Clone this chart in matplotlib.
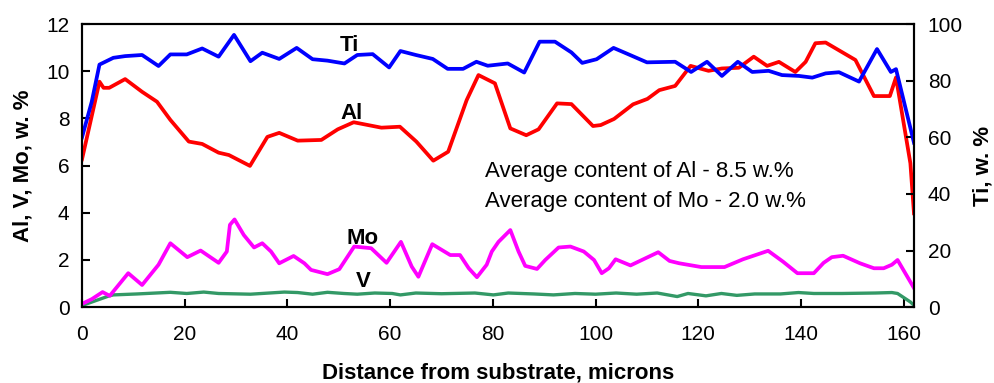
import matplotlib
matplotlib.use("Agg")
from matplotlib import pyplot as plt

plt.rcParams["font.family"] = ["Liberation Sans", "DejaVu Sans"]

# Ti, right axis (w. %)
TI_X = [0, 1.9, 3.4, 6.1, 8.4, 11.7, 14.9, 17.2, 20.4, 23.4, 26.6, 29.6, 32.8,
        35.1, 38.4, 41.8, 44.9, 47.8, 51.1, 53.6, 56.6, 59.8, 62.0, 65.0, 68.3,
        71.2, 74.2, 76.8, 79.0, 82.9, 86.1, 89.1, 92.1, 95.3, 97.4, 100.2, 103.5,
        106.7, 110.0, 115.5, 118.6, 121.7, 124.6, 127.7, 130.5, 133.7, 136.3,
        139.6, 142.2, 144.8, 147.4, 151.3, 154.8, 157.5, 158.5, 162]
TI_Y = [60.0, 72.6, 85.7, 88.1, 88.7, 89.1, 85.2, 89.3, 89.3, 91.4, 88.5, 96.2, 86.9,
        89.9, 87.7, 91.6, 87.6, 87.1, 86.1, 89.1, 89.4, 84.7, 90.5, 89.1, 87.7,
        84.2, 84.2, 86.7, 85.3, 86.1, 82.9, 93.8, 93.8, 90.0, 86.3, 87.6, 91.6,
        89.1, 86.5, 86.7, 83.1, 86.7, 81.7, 86.7, 83.1, 83.5, 82.0,
        81.7, 81.1, 82.6, 83.0, 79.7, 91.2, 83.1, 84.1, 58.1]

AL_X = [0, 3.4, 4.2, 5.3, 8.4, 11.7, 14.6, 17.2, 20.8, 23.4, 26.6, 28.6, 32.7,
        36.1, 38.4, 42.0, 46.6, 49.8, 52.9, 58.3, 61.9, 65.1, 68.4, 71.3, 74.9,
        77.2, 80.4, 83.4, 86.5, 88.9, 92.5, 95.3, 99.5, 101.0, 103.6, 107.3,
        110.1, 112.4, 115.5, 118.5, 122.0, 124.6, 127.9, 130.8, 133.4, 135.7,
        138.9, 140.9, 142.8, 144.8, 147.7, 150.6, 154.2, 157.3, 158.5, 161.3, 162]
AL_Y = [6.27, 9.56, 9.3, 9.3, 9.67, 9.13, 8.71, 7.94, 7.02, 6.92, 6.55, 6.45, 5.99,
        7.22, 7.39, 7.06, 7.09, 7.54, 7.84, 7.61, 7.65, 7.02, 6.21, 6.59, 8.78,
        9.84, 9.49, 7.58, 7.29, 7.54, 8.64, 8.61, 7.68, 7.72, 7.98, 8.6,
        8.83, 9.2, 9.38, 10.23, 10.02, 10.12, 10.15, 10.62, 10.23, 10.4,
        9.97, 10.4, 11.19, 11.22, 10.85, 10.48, 8.95, 8.95, 9.74, 6.1, 3.98]

MO_X = [0, 1.9, 4.0, 5.4, 9.0, 11.7, 14.9, 17.2, 20.5, 23.1, 26.6, 28.2, 28.8,
        29.7, 31.5, 33.5, 35.1, 36.8, 38.4, 41.2, 43.3, 44.6, 47.8, 50.1, 53.0,
        56.3, 59.3, 62.1, 64.2, 65.5, 68.2, 71.7, 73.6, 75.3, 76.9, 78.8, 79.8,
        81.1, 83.4, 85.0, 86.3, 88.6, 90.2, 92.8, 95.1, 97.7, 99.7, 101.2, 102.6,
        103.9, 106.8, 109.4, 112.2, 114.4, 116.3, 120.6, 125.1, 128.7, 133.6,
        136.5, 139.3, 142.5, 144.4, 146.0, 148.2, 151.5, 154.2, 156.1, 157.7,
        158.8, 162]
MO_Y = [0.14, 0.34, 0.64, 0.48, 1.44, 0.94, 1.8, 2.71, 2.12, 2.4, 1.88, 2.36, 3.49,
        3.72, 3.06, 2.53, 2.71, 2.36, 1.86, 2.17, 1.86, 1.58, 1.4, 1.61, 2.57,
        2.5, 1.88, 2.77, 1.72, 1.29, 2.67, 2.21, 2.21, 1.65, 1.27, 1.8, 2.36,
        2.77, 3.27, 2.36, 1.75, 1.62, 2.0, 2.53, 2.57, 2.36, 2.0, 1.44, 1.65,
        2.03, 1.77, 2.04, 2.33, 1.96, 1.86, 1.7, 1.7, 2.03, 2.39,
        1.93, 1.44, 1.44, 1.88, 2.12, 2.18, 1.86, 1.65, 1.65, 1.8,
        2.0, 0.81]

V_X = [0, 5.3, 6.1, 10.7, 17.2, 20.4, 23.7, 26.6, 32.8, 39.4, 42, 44.9, 47.8, 51,
       53.6, 57, 60.4, 62, 65, 70, 76.5, 80.1, 83, 88, 91.8, 96, 100, 104, 108,
       112, 115.9, 118, 121.5, 124.5, 127.5, 131, 136, 139.5, 142.5, 148, 154.5,
       157.7, 158.8, 161.3, 162]
V_Y = [0.07, 0.48, 0.52, 0.56, 0.63, 0.58, 0.64, 0.58, 0.55, 0.64, 0.62, 0.55, 0.63,
       0.58, 0.55, 0.6, 0.58, 0.52, 0.6, 0.57, 0.6, 0.52, 0.6, 0.56, 0.52, 0.58,
       0.55, 0.6, 0.55, 0.6, 0.45, 0.58, 0.48, 0.58, 0.5, 0.56, 0.56, 0.62, 0.58,
       0.58, 0.6, 0.62, 0.58, 0.22, 0.08]

fig = plt.figure(figsize=(9.94, 3.83), dpi=100)
ax = fig.add_axes([0.0825, 0.198, 0.837, 0.739])
ax2 = ax.twinx()

ax.plot(V_X, V_Y, color="#339966", lw=2.4, zorder=2)
ax.plot(MO_X, MO_Y, color="#ff00ff", lw=2.7, zorder=3)
ax.plot(AL_X, AL_Y, color="#ff0000", lw=2.7, zorder=3)
ax2.plot(TI_X, TI_Y, color="#0000ff", lw=2.7)

ax.set_xlim(0, 162)
ax.set_ylim(0, 12)
ax2.set_ylim(0, 100)
ax.set_xticks(range(0, 161, 20))
ax.set_yticks(range(0, 13, 2))
ax2.set_yticks(range(0, 101, 20))

for a in (ax, ax2):
    for s in a.spines.values():
        s.set_linewidth(1.5)
ax.tick_params(axis="x", direction="in", length=6, width=1.5, labelsize=15, pad=13)
ax.tick_params(axis="y", direction="in", length=6, width=1.5, labelsize=15, pad=9)
ax2.tick_params(axis="y", direction="in", length=6, width=1.5, labelsize=15, pad=10)

ax.set_xlabel("Distance from substrate, microns", fontsize=16, fontweight="bold")
ax.set_ylabel("Al, V, Mo, w. %", fontsize=16, fontweight="bold")
ax2.set_ylabel("Ti, w. %", fontsize=16, fontweight="bold")
ax.xaxis.set_label_coords(0.5, -0.195)
ax.yaxis.set_label_coords(-0.058, 0.5)
ax2.yaxis.set_label_coords(1.07, 0.5)

ax.text(52.1, 11.1, "Ti", fontsize=16, fontweight="bold", ha="center", va="center")
ax.text(52.5, 8.2, "Al", fontsize=16, fontweight="bold", ha="center", va="center")
ax.text(54.7, 2.93, "Mo", fontsize=16, fontweight="bold", ha="center", va="center")
ax.text(54.7, 1.07, "V", fontsize=16, fontweight="bold", ha="center", va="center")
ax.text(78.4, 5.77, "Average content of Al - 8.5 w.%", fontsize=16, va="center")
ax.text(78.4, 4.5, "Average content of Mo - 2.0 w.%", fontsize=16, va="center")

fig.savefig("out.png", dpi=100)
